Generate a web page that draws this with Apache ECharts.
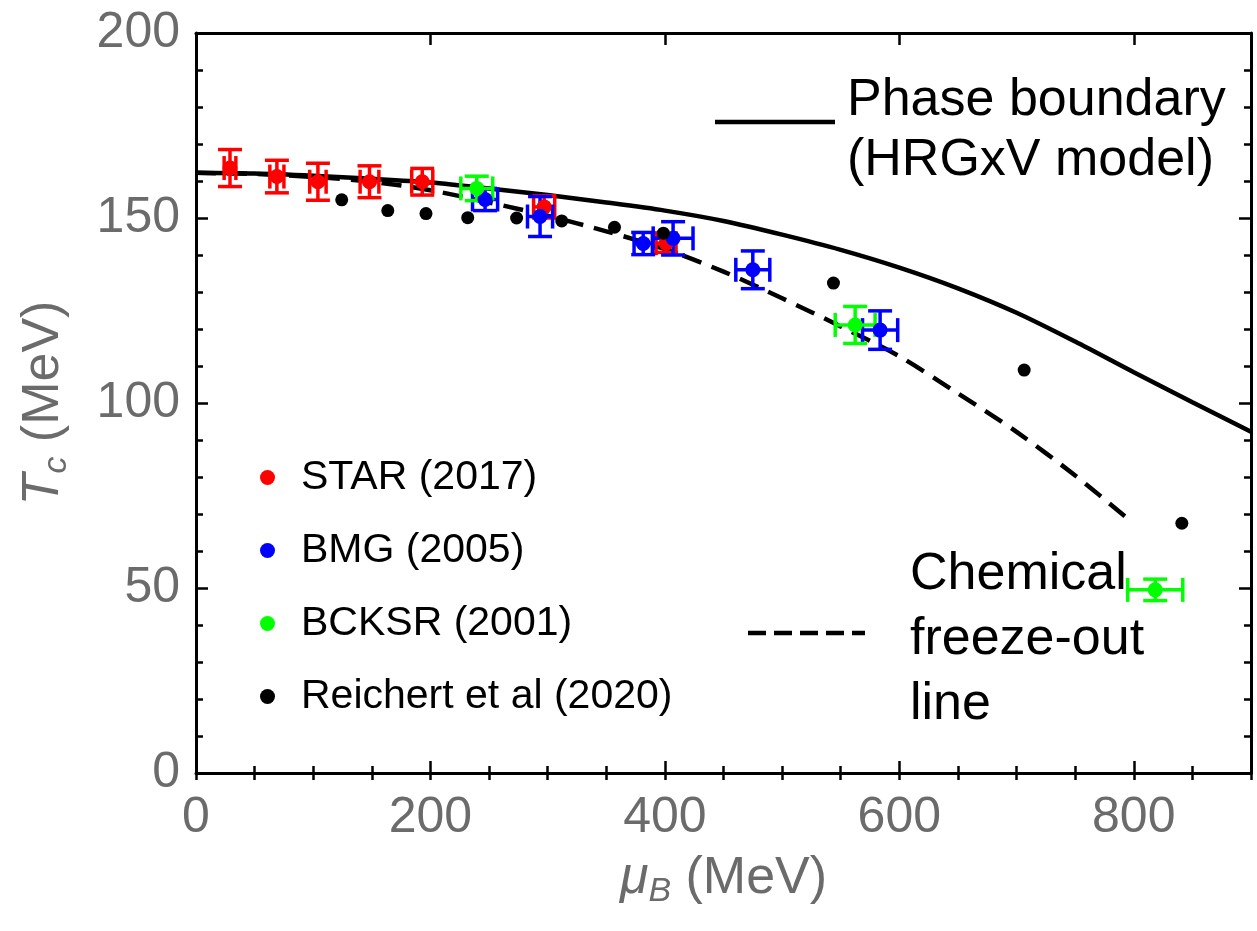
<!DOCTYPE html>
<html>
<head>
<meta charset="utf-8">
<script src="https://cdn.jsdelivr.net/npm/echarts@6/dist/echarts.min.js"></script>
<style>
html,body{margin:0;padding:0;background:#fff;}
#chart{width:1257px;height:931px;}
</style>
</head>
<body>
<div id="chart"></div>
<script>
// ---- Data ----
const xTicksMajor = [0, 200, 400, 600, 800];
const yTicksMajor = [0, 50, 100, 150, 200];

// STAR (2017)
const starMu    = [29, 69, 104, 148, 193, 297, 401];
const starT     = [163.5, 161.2, 159.8, 159.8, 159.8, 153.0, 143.2];
const starMuErr = [5, 6, 7, 8, 9, 9, 8.5];
const starTErr  = [5.0, 4.4, 5.0, 4.3, 3.6, 3.0, 2.5];

// BMG (2005)
const bmgMu    = [246.6, 293.5, 381.5, 407, 475, 583.6];
const bmgT     = [155.0, 150.4, 143.1, 144.5, 136.0, 119.7];
const bmgMuErr = [10.7, 10.7, 7.8, 17, 14.5, 15];
const bmgTErr  = [3.0, 5.4, 3.0, 4.5, 5.1, 5.2];

// BCKSR (2001)
const bcksrMu    = [239.5, 562.3, 818.3];
const bcksrT     = [158.0, 121.1, 49.5];
const bcksrMuErr = [13.6, 17, 23.5];
const bcksrTErr  = [3.3, 5.0, 2.9];

// Reichert et al (2020)
const reichMu = [124.3, 163.6, 196.2, 231.8, 273.5, 312, 357, 398.7, 543.8, 706.5, 841];
const reichT  = [154.9, 152.0, 151.2, 150.1, 150.0, 149.2, 147.5, 145.9, 132.4, 108.9, 67.5];

// Phase boundary (HRGxV model), solid curve
const boundaryMu = [0, 50, 100, 150, 200, 250, 300, 350, 400, 450, 500, 550, 600, 650, 700, 750, 800, 850, 900];
const boundaryT  = [162.2, 162.0, 161.4, 160.6, 159.6, 158.0, 156.2, 154.2, 152.0, 149.2, 145.5, 141.4, 136.6, 131.0, 124.4, 116.6, 108.3, 100.2, 92.2];

// Chemical freeze-out line, dashed curve
const freezeMu = [0, 50, 100, 150, 200, 250, 300, 350, 400, 450, 500, 550, 600, 650, 700, 750, 798];
const freezeT  = [162.2, 161.9, 161.1, 159.8, 157.5, 154.2, 150.6, 146.4, 141.6, 135.5, 128.3, 120.7, 112.6, 102.6, 92.2, 80.4, 67.9];

// ---- Build ----
const zip = (a, b) => a.map((v, i) => [v, b[i]]);
const zip4 = (a, b, c, d) => a.map((v, i) => [v, b[i], c[i], d[i]]);

const GREY = '#6b6b6b';
const FONT = '"Liberation Sans", Arial, Helvetica, sans-serif';

function errRender(color) {
  return function (params, api) {
    const x = api.value(0), y = api.value(1), ex = api.value(2), ey = api.value(3);
    const l = api.coord([x - ex, y]), r = api.coord([x + ex, y]);
    const t = api.coord([x, y + ey]), b = api.coord([x, y - ey]);
    const cap = 12;
    const st = { stroke: color, lineWidth: 3.5, fill: null };
    const seg = (x1, y1, x2, y2) => ({ type: 'line', shape: { x1, y1, x2, y2 }, style: st });
    return {
      type: 'group',
      children: [
        seg(t[0], t[1], b[0], b[1]),
        seg(l[0], l[1], r[0], r[1]),
        seg(t[0] - cap, t[1], t[0] + cap, t[1]),
        seg(b[0] - cap, b[1], b[0] + cap, b[1]),
        seg(l[0], l[1] - cap, l[0], l[1] + cap),
        seg(r[0], r[1] - cap, r[0], r[1] + cap)
      ]
    };
  };
}

function errSeries(name, color, data) {
  return {
    name: name, type: 'custom', coordinateSystem: 'cartesian2d',
    xAxisIndex: 0, yAxisIndex: 0,
    renderItem: errRender(color), data: data, silent: true, z: 3
  };
}
function dotSeries(name, color, data, size) {
  return {
    name: name, type: 'scatter', xAxisIndex: 0, yAxisIndex: 0,
    symbol: 'circle', symbolSize: size, data: data,
    itemStyle: { color: color, opacity: 1 }, z: 4, silent: true
  };
}

const xBase = { type: 'value', min: 0, max: 900, gridIndex: 0 };
const yBase = { type: 'value', min: 0, max: 200, gridIndex: 0 };
const axLine = { show: true, onZero: false, lineStyle: { color: '#000', width: 3 } };
const noSplit = { show: false };

const richName = {
  m: { fontSize: 52, lineHeight: 60, fontStyle: 'italic', color: GREY, fontFamily: FONT },
  s: { fontSize: 34, lineHeight: 34, fontStyle: 'italic', color: GREY, fontFamily: FONT, verticalAlign: 'bottom' },
  n: { fontSize: 52, lineHeight: 60, color: GREY, fontFamily: FONT }
};

const option = {
  animation: false,
  backgroundColor: '#fff',
  grid: { left: 196, top: 33, width: 1055, height: 740, containLabel: false },
  xAxis: [
    Object.assign({}, xBase, {
      position: 'bottom', interval: 200,
      name: '{m|μ}{s|B}{n| (MeV)}', nameLocation: 'middle', nameGap: 76,
      nameTextStyle: { rich: richName },
      axisLine: axLine,
      axisTick: { show: true, inside: true, length: 12, lineStyle: { color: '#000', width: 2.5 } },
      axisLabel: { show: true, showMaxLabel: false, margin: 20, fontSize: 50, color: GREY, fontFamily: FONT },
      splitLine: noSplit
    }),
    Object.assign({}, xBase, {
      position: 'bottom', interval: 50,
      axisLine: { show: false }, axisLabel: { show: false },
      axisTick: { show: true, inside: true, length: 7, lineStyle: { color: '#000', width: 2.5 } },
      splitLine: noSplit
    }),
    Object.assign({}, xBase, {
      position: 'top', interval: 200,
      axisLine: axLine, axisLabel: { show: false },
      axisTick: { show: true, inside: true, length: 12, lineStyle: { color: '#000', width: 2.5 } },
      splitLine: noSplit
    }),
    Object.assign({}, xBase, {
      position: 'top', interval: 50,
      axisLine: { show: false }, axisLabel: { show: false },
      axisTick: { show: true, inside: true, length: 7, lineStyle: { color: '#000', width: 2.5 } },
      splitLine: noSplit
    })
  ],
  yAxis: [
    Object.assign({}, yBase, {
      position: 'left', interval: 50,
      name: '{m|T}{s|c}{n| (MeV)}', nameLocation: 'middle', nameGap: 122, nameRotate: 90,
      nameTextStyle: { rich: richName },
      axisLine: axLine,
      axisTick: { show: true, inside: true, length: 12, lineStyle: { color: '#000', width: 2.5 } },
      minorTick: { show: true, splitNumber: 5, length: 7, lineStyle: { color: '#000', width: 2.5 } },
      axisLabel: { show: true, margin: 16, fontSize: 50, color: GREY, fontFamily: FONT },
      splitLine: noSplit, minorSplitLine: { show: false }
    }),
    Object.assign({}, yBase, {
      position: 'right', interval: 50,
      axisLine: axLine, axisLabel: { show: false },
      axisTick: { show: true, inside: true, length: 12, lineStyle: { color: '#000', width: 2.5 } },
      minorTick: { show: true, splitNumber: 5, length: 7, lineStyle: { color: '#000', width: 2.5 } },
      splitLine: noSplit, minorSplitLine: { show: false }
    })
  ],
  legend: {
    data: ['STAR (2017)', 'BMG (2005)', 'BCKSR (2001)', 'Reichert et al (2020)'],
    orient: 'vertical', left: 255, top: 452,
    itemWidth: 15, itemHeight: 15, icon: 'circle', itemGap: 32,
    selectedMode: false,
    textStyle: { fontSize: 41, lineHeight: 41, color: '#000', fontFamily: FONT, padding: [0, 0, 0, 21] }
  },
  graphic: [
    { type: 'line', shape: { x1: 715, y1: 122, x2: 835, y2: 122 }, style: { stroke: '#000', lineWidth: 4.5 }, z: 10 },
    { type: 'text', x: 847, y: 131, style: { text: 'Phase boundary\n(HRGxV model)', fill: '#000', font: '52px ' + FONT, lineHeight: 60, verticalAlign: 'middle', align: 'left' }, z: 10 },
    { type: 'line', shape: { x1: 748, y1: 633, x2: 865, y2: 633 }, style: { stroke: '#000', lineWidth: 4.5, lineDash: [18, 8] }, z: 10 },
    { type: 'text', x: 910, y: 640, style: { text: 'Chemical\nfreeze-out\nline', fill: '#000', font: '52px ' + FONT, lineHeight: 65, verticalAlign: 'middle', align: 'left' }, z: 10 }
  ],
  series: [
    {
      name: 'Phase boundary', type: 'line', xAxisIndex: 0, yAxisIndex: 0,
      data: zip(boundaryMu, boundaryT), smooth: 0.3, symbol: 'none',
      lineStyle: { color: '#000', width: 4.5 }, z: 2, silent: true
    },
    {
      name: 'Chemical freeze-out line', type: 'line', xAxisIndex: 0, yAxisIndex: 0,
      data: zip(freezeMu, freezeT), smooth: 0.3, symbol: 'none',
      lineStyle: { color: '#000', width: 4.5, type: [20, 11] }, z: 2, silent: true
    },
    errSeries('STAR err', '#ff0000', zip4(starMu, starT, starMuErr, starTErr)),
    dotSeries('STAR (2017)', '#ff0000', zip(starMu, starT), 15),
    errSeries('BMG err', '#0000ff', zip4(bmgMu, bmgT, bmgMuErr, bmgTErr)),
    dotSeries('BMG (2005)', '#0000ff', zip(bmgMu, bmgT), 15),
    errSeries('BCKSR err', '#00ff00', zip4(bcksrMu, bcksrT, bcksrMuErr, bcksrTErr)),
    dotSeries('BCKSR (2001)', '#00ff00', zip(bcksrMu, bcksrT), 15),
    dotSeries('Reichert et al (2020)', '#000000', zip(reichMu, reichT), 13)
  ]
};

const chart = echarts.init(document.getElementById('chart'), null, { renderer: 'canvas' });
chart.setOption(option);
</script>
</body>
</html>
